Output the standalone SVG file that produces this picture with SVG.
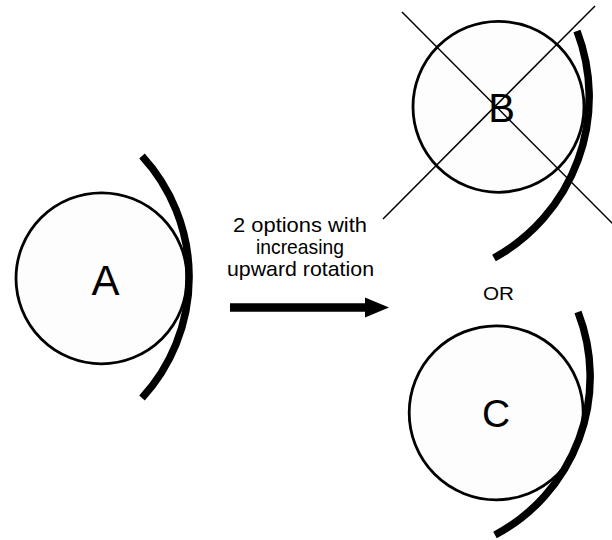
<svg xmlns="http://www.w3.org/2000/svg" width="612" height="540" viewBox="0 0 612 540">
<style>
.disc{fill:#fdfdfd;stroke:#000;stroke-width:2.8}
.arc{fill:none;stroke:#000;stroke-width:7.5}
.x{stroke:#000;stroke-width:1.5}
.lbl{font-family:"Liberation Sans",Arial,sans-serif;fill:#000;text-anchor:middle}
</style>
<rect width="612" height="540" fill="#fff"/>
<g id="nodeA">
<circle class="disc" cx="101.5" cy="278.3" r="85.5"/>
<path class="arc" d="M 142 156 A 179 179 0 0 1 142 398"/>
<text class="lbl" x="105.5" y="295" font-size="42">A</text>
</g>
<g id="nodeB">
<circle class="disc" cx="498.5" cy="106.8" r="85.5"/>
<path class="arc" d="M 577 31 A 184 184 0 0 1 494 258"/>
<text class="lbl" x="501.5" y="122" font-size="40">B</text>
<line class="x" x1="402" y1="12" x2="613" y2="224"/>
<line class="x" x1="595" y1="6" x2="383" y2="219"/>
</g>
<g id="nodeC">
<circle class="disc" cx="496.2" cy="412.8" r="87"/>
<path class="arc" d="M 578 312 A 179 179 0 0 1 495 535"/>
<text class="lbl" x="496" y="427" font-size="39">C</text>
</g>
<g id="labels">
<text class="lbl" font-size="21" x="300" y="232" textLength="134" lengthAdjust="spacingAndGlyphs">2 options with</text>
<text class="lbl" font-size="21" x="300" y="253.5" textLength="88" lengthAdjust="spacingAndGlyphs">increasing</text>
<text class="lbl" font-size="21" x="300.5" y="276" textLength="147" lengthAdjust="spacingAndGlyphs">upward rotation</text>
<text class="lbl" font-size="18" x="498.5" y="299.5" textLength="31" lengthAdjust="spacingAndGlyphs">OR</text>
</g>
<g id="connectors">
<line x1="230" y1="307.5" x2="367" y2="307.5" stroke="#000" stroke-width="8.5"/>
<polygon points="365,297.5 389,307.5 365,317.5" fill="#000"/>
</g>
</svg>
